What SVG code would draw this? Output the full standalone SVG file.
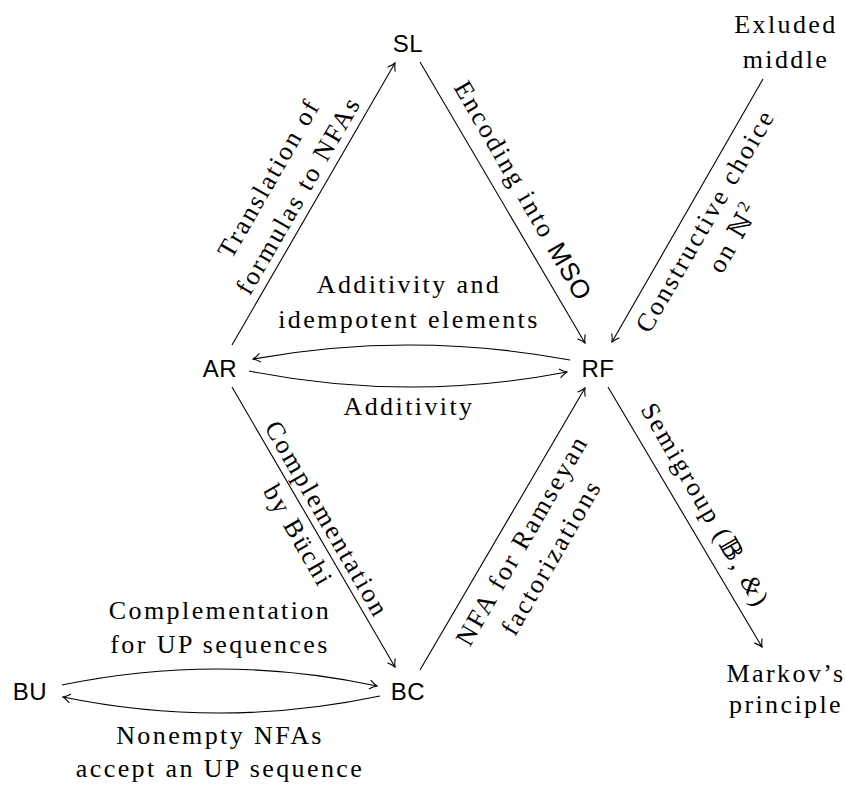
<svg xmlns="http://www.w3.org/2000/svg" width="846" height="787" viewBox="0 0 846 787">
<style>
.node{font-family:"Liberation Sans","DejaVu Sans",sans-serif;font-size:24px;text-anchor:middle;fill:#000;letter-spacing:0.5px}
.lbl{font-family:"Liberation Serif","DejaVu Serif",serif;font-size:26px;text-anchor:middle;fill:#000;letter-spacing:2.4px}
.sf{font-family:"Liberation Sans","DejaVu Sans",sans-serif;letter-spacing:1px}
.e{fill:none;stroke:#000;stroke-width:1.1;marker-end:url(#arr)}
</style>
<defs>
<marker id="arr" viewBox="-10 -6 12 12" refX="0" refY="0" markerWidth="12" markerHeight="12" markerUnits="userSpaceOnUse" orient="auto">
<path d="M-7,-4.2 C-4.5,-2.2 -1.5,-0.6 0,0 C-1.5,0.6 -4.5,2.2 -7,4.2" fill="none" stroke="#000" stroke-width="1.1" stroke-linecap="round"/>
</marker>
</defs>
<g id="connectors">
<path class="e" d="M232,345 L395,63"/>
<path class="e" d="M420,62 L585,343"/>
<path class="e" d="M763,79 L612,342"/>
<path class="e" d="M570,360 Q411,330.5 253,359"/>
<path class="e" d="M249,371 Q408,402.5 567,372"/>
<path class="e" d="M232,387 L395,667"/>
<path class="e" d="M420,670 L585,388"/>
<path class="e" d="M608,387 L762,647"/>
<path class="e" d="M62,685 Q220,652.5 377,686"/>
<path class="e" d="M380,696 Q221,729.5 63,697"/>
</g>
<g id="edge-labels">
<g transform="translate(313.5,204) rotate(-60)">
<text class="lbl" x="0" y="-43">Translation of</text>
<text class="lbl" x="0" y="-9">formulas to NFAs</text>
</g>
<g transform="translate(502.5,202.5) rotate(60)">
<text class="lbl" x="0" y="-15">Encoding into <tspan class="sf">MSO</tspan></text>
</g>
<g transform="translate(687.5,210.5) rotate(-60)">
<text class="lbl" x="0" y="29">Constructive choice</text>
<text class="lbl" x="0" y="62">on ℕ<tspan font-size="17" dy="-10">2</tspan></text>
</g>
<text class="lbl" x="409" y="293">Additivity and</text>
<text class="lbl" x="409" y="328">idempotent elements</text>
<text class="lbl" x="409" y="415">Additivity</text>
<g transform="translate(313.5,527) rotate(60)">
<text class="lbl" x="0" y="-7">Complementation</text>
<text class="lbl" x="0" y="26">by Büchi</text>
</g>
<g transform="translate(502.5,529) rotate(-60)">
<text class="lbl" x="0" y="31">NFA for Ramseyan</text>
<text class="lbl" x="0" y="65">factorizations</text>
</g>
<g transform="translate(685,517) rotate(60)">
<text class="lbl" x="0" y="-15">Semigroup (𝔹, <tspan font-style="italic">&amp;</tspan>)</text>
</g>
<text class="lbl" x="220" y="619">Complementation</text>
<text class="lbl" x="220" y="653">for UP sequences</text>
<text class="lbl" x="220" y="744">Nonempty NFAs</text>
<text class="lbl" x="220" y="777">accept an UP sequence</text>
</g>
<g id="SL"><text class="node" x="408" y="52">SL</text></g>
<g id="AR"><text class="node" x="220" y="377">AR</text></g>
<g id="RF"><text class="node" x="598" y="377">RF</text></g>
<g id="BU"><text class="node" x="30" y="700">BU</text></g>
<g id="BC"><text class="node" x="408" y="700">BC</text></g>
<g id="EM"><text class="lbl" x="786" y="33">Exluded</text><text class="lbl" x="786" y="68">middle</text></g>
<g id="MP"><text class="lbl" x="786" y="682">Markov’s</text><text class="lbl" x="786" y="713">principle</text></g>
</svg>
